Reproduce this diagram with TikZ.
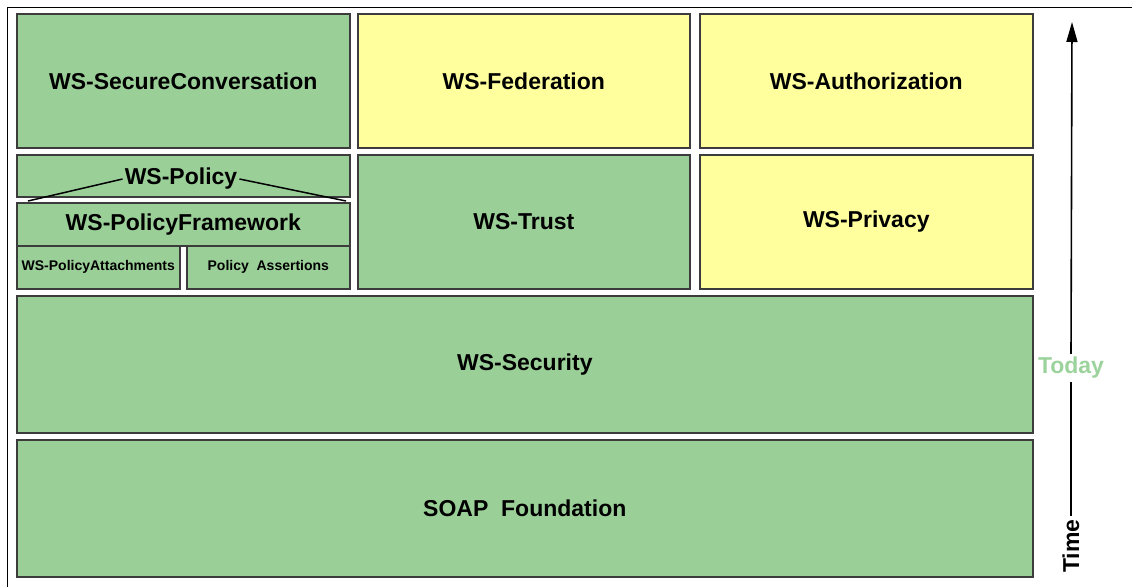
\documentclass[tikz,border=0pt]{standalone}
\usepackage{fontspec}
\setmainfont{Liberation Sans}
\usetikzlibrary{arrows.meta}
\definecolor{wsgreen}{HTML}{9BCF98}
\definecolor{wsyellow}{HTML}{FFFF9E}
\definecolor{wsedge}{HTML}{3C3C3C}
\definecolor{todaygreen}{HTML}{9CD39C}
\begin{document}
\begin{tikzpicture}[x=1pt, y=-1pt, every node/.style={font=\fontsize{23}{25}\selectfont\bfseries}]
  \tikzstyle{layer}=[draw=wsedge,line width=1.6pt,anchor=north west,inner sep=0pt,align=center]
  \tikzstyle{greenlayer}=[layer,fill=wsgreen]
  \tikzstyle{yellowlayer}=[layer,fill=wsyellow]
  \useasboundingbox (0,0) rectangle (1132,587);
  \draw[line width=1pt] (7,587) -- (7,7) -- (1132,7);
  % top row
  \node[greenlayer,minimum width=333pt,minimum height=134pt] (secconv) at (16,13) {WS-SecureConversation};
  \node[yellowlayer,minimum width=332pt,minimum height=134pt] (fed) at (357,13) {WS-Federation};
  \node[yellowlayer,minimum width=333pt,minimum height=134pt] (authz) at (699,13) {WS-Authorization};
  % middle row
  \node[greenlayer,minimum width=333pt,minimum height=42pt] (polbox) at (16,154) {};
  \node[inner sep=2pt] (pol) at (181,179) {WS-Policy};
  \node[greenlayer,minimum width=333pt,minimum height=43pt] (polfw) at (16,202) {WS-PolicyFramework};
  \node[greenlayer,minimum width=163pt,minimum height=43pt,font=\fontsize{14}{16}\selectfont\bfseries] (attach) at (16,245) {WS-PolicyAttachments};
  \node[greenlayer,minimum width=163pt,minimum height=43pt,font=\fontsize{14}{16}\selectfont\bfseries] (assert) at (186,245) {Policy\ \ Assertions};
  \node[greenlayer,minimum width=332pt,minimum height=134pt] (trust) at (357,154) {WS-Trust};
  \node[yellowlayer,minimum width=333pt,minimum height=134pt] (privacy) at (699,154) {WS-Privacy};
  \coordinate (polL) at (28,201);
  \coordinate (polR) at (346,201);
  \draw[line width=1.5pt] (polL) -- (pol.west);
  \draw[line width=1.5pt] (pol.east) -- (polR);
  % base layers
  \node[greenlayer,minimum width=1016pt,minimum height=137pt] (security) at (16,295) {WS-Security};
  \node[greenlayer,minimum width=1016pt,minimum height=137pt] (soap) at (16,439) {SOAP\ \ Foundation};
  % time axis
  \node[rotate=90] (time) at (1071,546) {Time};
  \node[text=todaygreen] (today) at (1071,368) {Today};
  \coordinate (future) at (1072,22);
  \draw[line width=1.6pt] (time.east) -- (today.south);
  \draw[line width=1.6pt,-{Triangle[length=20pt,width=11pt]}] (today.north) -- (future);
\end{tikzpicture}
\end{document}
